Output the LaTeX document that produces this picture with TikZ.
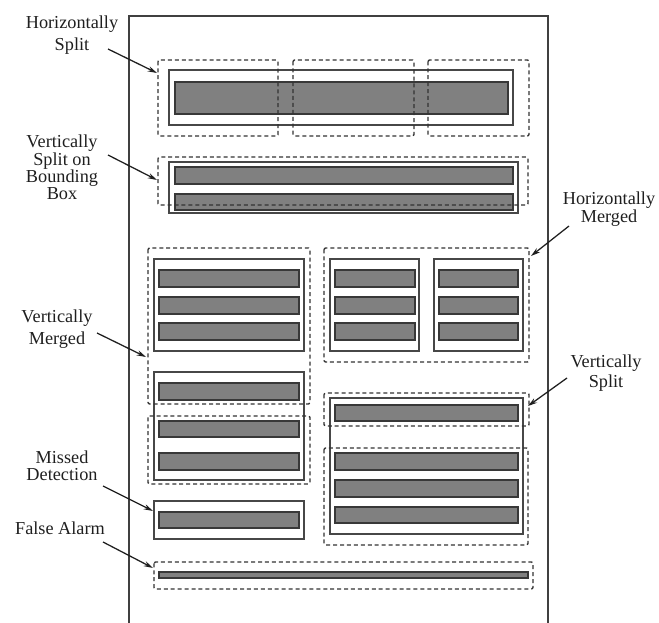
\documentclass[tikz,border=0pt]{standalone}
\usepackage{fontspec}
\setmainfont{Liberation Serif}
\usetikzlibrary{arrows.meta}
\begin{document}
\begin{tikzpicture}[x=0.75pt,y=-0.75pt,
  bar/.style={draw=black!78,fill=black!50,line width=1.1pt},
  gt/.style={draw=black!72,line width=1pt},
  det/.style={draw=black!80,line width=1.05pt,dash pattern=on 3pt off 2.2pt,rounded corners=1pt},
  lbl/.style={align=center,text=black!88,inner sep=0pt},
  arr/.style={draw=black!88,line width=0.95pt,-{Stealth[length=7pt,width=4pt]}}]
\useasboundingbox (0,0) rectangle (659,623);
% page frame
\draw[line width=1.1pt,black!75] (129,623) -- (129,16) -- (548,16) -- (548,623);

% Horizontally split
\draw[gt] (169,70) rectangle (513,125);
\draw[bar] (175,82) rectangle (508,114);
\draw[det] (158,60) rectangle (278,136);
\draw[det] (293,60) rectangle (414,136);
\draw[det] (428,60) rectangle (529,136);

% Vertically split on bounding box
\draw[gt] (169,162) rectangle (518,213);
\draw[bar] (175,167) rectangle (513,184);
\draw[bar] (175,194) rectangle (513,210);
\draw[det] (158,157) rectangle (528,205);

% Vertically merged
\draw[gt] (154,259) rectangle (304,351);
\draw[bar] (159,270) rectangle (299,287);
\draw[bar] (159,297) rectangle (299,314);
\draw[bar] (159,323) rectangle (299,340);
\draw[gt] (154,372) rectangle (304,480);
\draw[bar] (159,383) rectangle (299,400);
\draw[bar] (159,421) rectangle (299,437);
\draw[bar] (159,453) rectangle (299,470);
\draw[det] (148,248) rectangle (310,404);
\draw[det] (148,416) rectangle (310,484);

% Missed detection
\draw[gt] (154,501) rectangle (304,539);
\draw[bar] (159,512) rectangle (299,528);

% False alarm
\draw[bar] (159,572) rectangle (528,578);
\draw[det] (154,562) rectangle (533,589);

% Horizontally merged
\draw[gt] (330,259) rectangle (419,351);
\draw[gt] (434,259) rectangle (523,351);
\foreach \ya/\yb in {270/287,297/314,323/340}{
  \draw[bar] (335,\ya) rectangle (415,\yb);
  \draw[bar] (439,\ya) rectangle (518,\yb);
}
\draw[det] (324,248) rectangle (529,362);

% Vertically split
\draw[gt] (330,398) rectangle (523,534);
\draw[bar] (335,405) rectangle (518,421);
\draw[bar] (335,453) rectangle (518,470);
\draw[bar] (335,480) rectangle (518,497);
\draw[bar] (335,507) rectangle (518,523);
\draw[det] (324,393) rectangle (529,426);
\draw[det] (324,448) rectangle (528,545);

% labels
\node[lbl,font=\fontsize{13.7}{17}\selectfont] (hs) at (72,35) {Horizontally\\Split};
\node[lbl,font=\fontsize{13.7}{12.4}\selectfont] (vsbb) at (62,167) {Vertically\\Split on\\Bounding\\Box};
\node[lbl,font=\fontsize{13.7}{16.5}\selectfont] (vm) at (57,329) {Vertically\\Merged};
\node[lbl,font=\fontsize{13.7}{14}\selectfont] (hm) at (609,209) {Horizontally\\Merged};
\node[lbl,font=\fontsize{13.7}{15}\selectfont] (vs) at (606,373) {Vertically\\Split};
\node[lbl,font=\fontsize{13.7}{12.8}\selectfont] (md) at (62,466) {Missed\\Detection};
\node[lbl,font=\fontsize{13.7}{14}\selectfont] (fa) at (60,528) {False Alarm};

% arrows
\coordinate (hsA) at (108,49);   \coordinate (hsB) at (157,73);
\coordinate (vsbbA) at (108,155); \coordinate (vsbbB) at (157,180);
\coordinate (vmA) at (97,333);   \coordinate (vmB) at (146,357);
\coordinate (hmA) at (569,226);  \coordinate (hmB) at (531,256);
\coordinate (vsA) at (567,378);  \coordinate (vsB) at (528,406);
\coordinate (mdA) at (103,486);  \coordinate (mdB) at (153,511);
\coordinate (faA) at (103,542);  \coordinate (faB) at (153,568);
\draw[arr] (hsA) -- (hsB);
\draw[arr] (vsbbA) -- (vsbbB);
\draw[arr] (vmA) -- (vmB);
\draw[arr] (hmA) -- (hmB);
\draw[arr] (vsA) -- (vsB);
\draw[arr] (mdA) -- (mdB);
\draw[arr] (faA) -- (faB);
\end{tikzpicture}
\end{document}
